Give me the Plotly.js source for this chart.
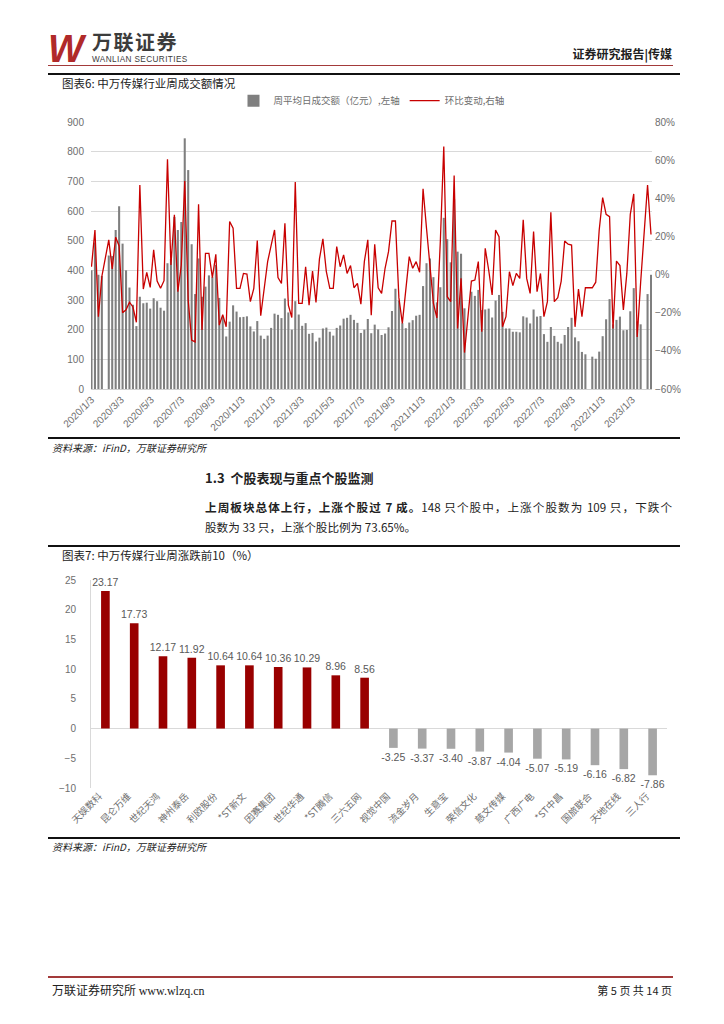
<!DOCTYPE html>
<html><head><meta charset="utf-8">
<script src="https://cdn.plot.ly/plotly-3.0.1.min.js"></script>
<style>
body{margin:0;background:#fff;width:724px;height:1024px;position:relative;overflow:hidden;font-family:"Noto Sans CJK SC","Liberation Sans",sans-serif;color:#222;}
.abs{position:absolute;white-space:nowrap;line-height:1;}
.rule{position:absolute;left:48px;width:632px;background:#111;}
</style></head><body>
<div class="abs" style="left:48px;top:30px;font:italic 900 38px/1 'Liberation Sans';color:#b02a2a;letter-spacing:-2px;">W</div>
<div class="abs" style="left:92px;top:32px;height:20px;font:700 20px/20px 'Noto Sans CJK SC';color:#3c3c3c;letter-spacing:1.5px;">万联证券</div>
<div class="abs" style="left:92px;top:56px;height:8px;font:400 8.2px/8px 'Liberation Sans';color:#3c3c3c;letter-spacing:0.4px;">WANLIAN SECURITIES</div>
<div class="abs" style="right:52px;top:48px;font:700 12px/1 'Noto Sans CJK SC';color:#222;">证券研究报告|传媒</div>
<div class="abs" style="left:48px;top:65px;width:625px;height:1px;background:#a33a3a;"></div>

<div class="rule" style="top:73px;height:2px;"></div>
<div class="abs" style="left:62px;top:78px;font:400 11.5px/1 'Noto Sans CJK SC';">图表6: 中万传媒行业周成交额情况</div>
<div class="rule" style="top:93px;height:2px;"></div>
<div id="c1" class="abs" style="left:40px;top:92px;width:645px;height:350px;"></div>
<div class="rule" style="top:437px;height:2px;"></div>
<div class="abs" style="left:52px;top:443px;font:italic 400 10px/1 'Noto Sans CJK SC';">资料来源：iFinD，万联证券研究所</div>

<div class="abs" style="left:205px;top:471px;font:700 13px/1 'Noto Sans CJK SC';">1.3&nbsp;&nbsp;个股表现与重点个股监测</div>
<div class="abs" style="left:205px;top:502px;width:467px;font:400 11.6px/1 'Noto Sans CJK SC';text-align:justify;text-align-last:justify;"><b>上周板块总体上行，上涨个股过 7 成。</b>148 只个股中，上涨个股数为 109 只，下跌个</div>
<div class="abs" style="left:205px;top:522px;font:400 11.6px/1 'Noto Sans CJK SC';">股数为 33 只，上涨个股比例为 73.65%。</div>

<div class="rule" style="top:545px;height:2px;"></div>
<div class="abs" style="left:62px;top:550px;font:400 11.5px/1 'Noto Sans CJK SC';">图表7: 中万传媒行业周涨跌前10（%）</div>
<div class="rule" style="top:565px;height:2px;"></div>
<div id="c2" class="abs" style="left:40px;top:565px;width:645px;height:280px;"></div>
<div class="rule" style="top:837px;height:2px;"></div>
<div class="abs" style="left:52px;top:842px;font:italic 400 10px/1 'Noto Sans CJK SC';">资料来源：iFinD，万联证券研究所</div>

<div class="abs" style="left:48px;top:976px;width:625px;height:2px;background:#a33a3a;"></div>
<div class="abs" style="left:52px;top:984px;font:400 12px/1 'Noto Sans CJK SC';">万联证券研究所 <span style="font-family:'Liberation Serif'">www.wlzq.cn</span></div>
<div class="abs" style="right:52px;top:985px;font:400 11px/1 'Noto Sans CJK SC';">第 5 页 共 14 页</div>

<script>
// ---------- Chart 6 data ----------
const weekDates = [
"2020-01-03","2020-01-10","2020-01-17","2020-01-24","2020-02-07","2020-02-14","2020-02-21","2020-02-28",
"2020-03-06","2020-03-13","2020-03-20","2020-03-27","2020-04-03","2020-04-10","2020-04-17","2020-04-24",
"2020-05-01","2020-05-08","2020-05-15","2020-05-22","2020-05-29","2020-06-05","2020-06-12","2020-06-19","2020-06-26",
"2020-07-03","2020-07-10","2020-07-17","2020-07-24","2020-07-31","2020-08-07","2020-08-14","2020-08-21","2020-08-28",
"2020-09-04","2020-09-11","2020-09-18","2020-09-25","2020-10-02","2020-10-09","2020-10-16","2020-10-23","2020-10-30",
"2020-11-06","2020-11-13","2020-11-20","2020-11-27","2020-12-04","2020-12-11","2020-12-18","2020-12-25",
"2021-01-01","2021-01-08","2021-01-15","2021-01-22","2021-01-29","2021-02-05","2021-02-12","2021-02-19","2021-02-26",
"2021-03-05","2021-03-12","2021-03-19","2021-03-26","2021-04-02","2021-04-09","2021-04-16","2021-04-23","2021-04-30",
"2021-05-07","2021-05-14","2021-05-21","2021-05-28","2021-06-04","2021-06-11","2021-06-18","2021-06-25",
"2021-07-02","2021-07-09","2021-07-16","2021-07-23","2021-07-30","2021-08-06","2021-08-13","2021-08-20","2021-08-27",
"2021-09-03","2021-09-10","2021-09-17","2021-09-24","2021-10-01","2021-10-08","2021-10-15","2021-10-22","2021-10-29",
"2021-11-05","2021-11-12","2021-11-19","2021-11-26","2021-12-03","2021-12-10","2021-12-17","2021-12-24","2021-12-31",
"2022-01-07","2022-01-14","2022-01-21","2022-01-28","2022-02-11","2022-02-18","2022-02-25",
"2022-03-04","2022-03-11","2022-03-18","2022-03-25","2022-04-01","2022-04-08","2022-04-15","2022-04-22","2022-04-29",
"2022-05-06","2022-05-13","2022-05-20","2022-05-27","2022-06-03","2022-06-10","2022-06-17","2022-06-24",
"2022-07-01","2022-07-08","2022-07-15","2022-07-22","2022-07-29","2022-08-05","2022-08-12","2022-08-19","2022-08-26",
"2022-09-02","2022-09-09","2022-09-16","2022-09-23","2022-09-30","2022-10-14","2022-10-21","2022-10-28",
"2022-11-04","2022-11-11","2022-11-18","2022-11-25","2022-12-02","2022-12-09","2022-12-16","2022-12-23","2022-12-30",
"2023-01-06","2023-01-13","2023-01-20","2023-02-03","2023-02-10"
];
const turnover = [
400,494,385,381,
450,448,536,616,490,400,342,284,212,311,
289,291,271,306,296,274,264,424,438,580,
536,563,845,738,488,320,440,311,345,383,
377,418,307,243,177,227,282,261,242,243,
245,211,194,229,180,169,180,206,254,250,
239,305,258,200,296,251,213,222,186,189,
160,173,204,207,193,180,206,214,237,240,
250,233,223,189,200,236,188,217,201,182,
187,208,263,338,298,222,205,224,232,247,
250,347,424,440,377,292,343,577,505,427,
640,463,456,272,
328,314,334,266,268,271,241,298,317,260,
204,204,193,193,191,245,241,221,268,244,
246,185,159,209,179,159,153,182,209,240,
174,161,125,117,
109,102,126,178,235,303,218,233,244,198,
199,262,340,228,218,
320,385
];
const wowChange = [
4.1,23.4,-22.1,-1.0,
18.2,3,19.6,15,-20,-18.5,-14.5,-17,-25,47,
-7.6,1.2,-6.7,13,-3.4,-7.2,-3.2,60.5,5,31.3,
-9,5,49,-13.5,-34.4,-35.3,36.9,-29.1,11.1,11.1,
-1.6,10.6,-26.5,-21,-27.4,27.8,24.3,-7.2,-7.2,0.6,
0.3,-14.2,-7.2,17.8,-21.6,-5.8,6.8,15.2,23.4,-1.6,
-4.6,26.9,-16,-22.5,48.5,-15.1,-15.1,4.1,-16,1.9,
-14.6,8.2,18.7,1.5,-7.2,-7.2,14.7,4.1,10.3,0.6,
4.7,-6.9,-4.6,-15.5,6.8,18.2,-21.3,15.9,-6.9,-9.9,
3.3,12,28.1,28.1,-12.1,-25.6,-8.1,9.4,3.3,6.8,
1.2,45,24.3,2.4,-15.1,-22.7,17.3,67.2,-11.6,-14.2,
52,-28.3,-2,-40.9,
-3.4,-2.9,6.8,-30,13.8,2.4,-10.7,23.4,19.9,-27.4,
-22.1,1.5,-5.8,0.6,-2,28.7,-2,-9.9,22.5,-9,
0.6,-22.1,-14.2,32.7,-14.2,-12.1,-3.4,17.6,15.9,15.5,
-27.4,-7.6,-22.1,-6.9,
-6.9,-4,23.4,40.4,31.6,30.4,-28.3,7.1,4.7,-18.6,
0.6,31.6,42.3,-32.7,-4,
47,21
];
const xTickDates = ["2020-01-03","2020-03-03","2020-05-03","2020-07-03","2020-09-03","2020-11-03",
"2021-01-03","2021-03-03","2021-05-03","2021-07-03","2021-09-03","2021-11-03",
"2022-01-03","2022-03-03","2022-05-03","2022-07-03","2022-09-03","2022-11-03","2023-01-03"];
const xTickLabels = ["2020/1/3","2020/3/3","2020/5/3","2020/7/3","2020/9/3","2020/11/3",
"2021/1/3","2021/3/3","2021/5/3","2021/7/3","2021/9/3","2021/11/3",
"2022/1/3","2022/3/3","2022/5/3","2022/7/3","2022/9/3","2022/11/3","2023/1/3"];

// ---------- Chart 7 data ----------
const stocks = ["天娱数科","昆仑万维","世纪天鸿","神州泰岳","利欧股份","*ST新文","因赛集团","世纪华通","*ST腾信","三六五网",
"视觉中国","流金岁月","生意宝","荣信文化","慈文传媒","广西广电","*ST中昌","国旅联合","天地在线","三人行"];
const weeklyPct = [23.17,17.73,12.17,11.92,10.64,10.64,10.36,10.29,8.96,8.56,
-3.25,-3.37,-3.40,-3.87,-4.04,-5.07,-5.19,-6.16,-6.82,-7.86];

const tickFont = {family:"Liberation Sans, Noto Sans CJK SC", size:10, color:"#6e6e6e"};
const DAY = 86400000;

Plotly.newPlot("c1", [
  {type:"bar", x:weekDates, y:turnover, name:"周平均日成交额（亿元）,左轴",
   marker:{color:"#7f7f7f"}, width:4.2*DAY},
  {type:"scatter", mode:"lines", x:weekDates, y:wowChange, yaxis:"y2", name:"环比变动,右轴",
   line:{color:"#c80000", width:1.3}}
], {
  width:645, height:350, margin:{l:51, r:33, t:30, b:53, autoexpand:false},
  paper_bgcolor:"#fff", plot_bgcolor:"#fff", showlegend:true,
  legend:{orientation:"h", x:0.5, xanchor:"center", y:1.08, yanchor:"middle",
          font:{family:"Noto Sans CJK SC", size:9.5, color:"#6e6e6e"}, traceorder:"normal"},
  xaxis:{type:"date", range:["2020-01-02","2023-02-12"], tickvals:xTickDates, ticktext:xTickLabels,
         tickangle:-45, tickfont:tickFont, showgrid:false, showline:true, linecolor:"#d0d0d0",
         ticks:"", automargin:false, zeroline:false},
  yaxis:{range:[0,900], dtick:100, tickfont:tickFont, gridcolor:"#d9d9d9", gridwidth:1,
         zeroline:false, showline:false, ticks:"", automargin:false, ticklabelstandoff:6},
  yaxis2:{range:[-60,80], dtick:20, ticksuffix:"%", overlaying:"y", side:"right", showgrid:false,
          zeroline:false, tickfont:tickFont, ticks:"", automargin:false, ticklabelstandoff:2},
  bargap:0.3
}, {staticPlot:true});

Plotly.newPlot("c2", [
  {type:"bar", x:stocks, y:weeklyPct,
   marker:{color:weeklyPct.map(v => v >= 0 ? "#990000" : "#a6a6a6")},
   text:weeklyPct.map(v => v.toFixed(2)), textposition:"outside", constraintext:"none", cliponaxis:false,
   textfont:{family:"Liberation Sans", size:10.5, color:"#595959"}}
], {
  width:645, height:280, margin:{l:51, r:18, t:15, b:57, autoexpand:false},
  paper_bgcolor:"#fff", plot_bgcolor:"#fff", showlegend:false, bargap:0.7,
  xaxis:{type:"category", tickangle:-45, tickfont:{family:"Noto Sans CJK SC", size:9.5, color:"#6e6e6e"},
         showline:false, showgrid:false, ticks:"", automargin:false, ticklabelshift:-6},
  yaxis:{range:[-10,25], dtick:5, tickfont:tickFont, showgrid:false, showline:true, linecolor:"#d9d9d9",
         zeroline:true, zerolinecolor:"#d9d9d9", zerolinewidth:1, ticks:"", automargin:false, ticklabelstandoff:12}
}, {staticPlot:true});
</script>
</body></html>
